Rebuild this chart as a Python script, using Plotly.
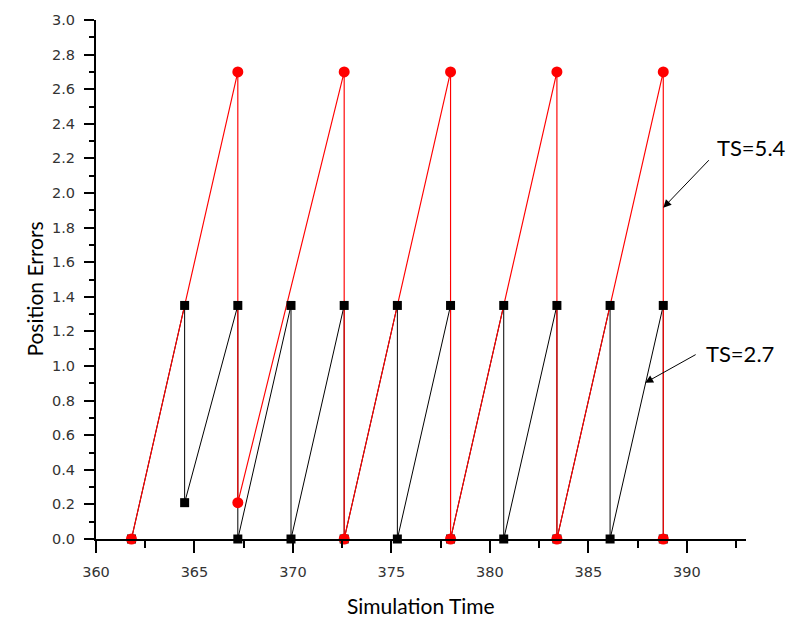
import plotly.graph_objects as go

# TS = 5.4 series (red)
ts54_time = [361.8, 367.2, 367.2, 372.6, 372.6, 378.0, 378.0, 383.4, 383.4, 388.8, 388.8]
ts54_err = [0.0, 2.7, 0.21, 2.7, 0.0, 2.7, 0.0, 2.7, 0.0, 2.7, 0.0]

# TS = 2.7 series (black)
ts27_time = [361.8, 364.5, 364.5, 367.2, 367.2, 369.9, 369.9, 372.6, 372.6, 375.3, 375.3,
             378.0, 378.0, 380.7, 380.7, 383.4, 383.4, 386.1, 386.1, 388.8, 388.8]
ts27_err = [0.0, 1.35, 0.21, 1.35, 0.0, 1.35, 0.0, 1.35, 0.0, 1.35, 0.0,
            1.35, 0.0, 1.35, 0.0, 1.35, 0.0, 1.35, 0.0, 1.35, 0.0]

x_ticks = [360, 365, 370, 375, 380, 385, 390]
y_ticks = [0.0, 0.2, 0.4, 0.6, 0.8, 1.0, 1.2, 1.4, 1.6, 1.8, 2.0, 2.2, 2.4, 2.6, 2.8, 3.0]

fig = go.Figure()
fig.add_trace(go.Scatter(x=ts27_time, y=ts27_err, mode="lines",
                         line=dict(color="black", width=1), cliponaxis=False, showlegend=False))
fig.add_trace(go.Scatter(x=ts54_time, y=ts54_err, mode="lines",
                         line=dict(color="#ff0000", width=1.15), cliponaxis=False, showlegend=False))
fig.add_trace(go.Scatter(x=ts27_time, y=ts27_err, mode="markers",
                         marker=dict(symbol="square", size=9, color="black"),
                         cliponaxis=False, showlegend=False))
fig.add_trace(go.Scatter(x=ts54_time, y=ts54_err, mode="markers",
                         marker=dict(symbol="circle", size=11, color="#ff0000"),
                         cliponaxis=False, showlegend=False))

tickfont = dict(family="DejaVu Sans", size=14.5, color="#333333")

fig.update_layout(
    width=788, height=618,
    margin=dict(l=96, r=42, t=17, b=79),
    paper_bgcolor="white", plot_bgcolor="white",
    xaxis=dict(range=[360, 393.0], tickvals=x_ticks, ticktext=[str(v) for v in x_ticks],
               showgrid=False, zeroline=False, showline=True, linecolor="black", linewidth=2,
               ticks="outside", ticklen=12, tickwidth=2, tickcolor="black",
               minor=dict(ticks="outside", ticklen=7, tickwidth=2, tickcolor="black",
                          tick0=360, dtick=2.5),
               tickfont=tickfont, ticklabelstandoff=7),
    yaxis=dict(range=[0, 3.0], tickvals=y_ticks, ticktext=[f"{v:.1f}" for v in y_ticks],
               showgrid=False, zeroline=False, showline=True, linecolor="black", linewidth=2,
               ticks="outside", ticklen=10, tickwidth=2, tickcolor="black",
               minor=dict(ticks="outside", ticklen=5, tickwidth=2, tickcolor="black",
                          tick0=0, dtick=0.1),
               tickfont=tickfont, ticklabelstandoff=6),
)

titlefont = dict(family="Lato", size=21, color="black")
fig.add_annotation(text="Simulation Time", xref="paper", yref="paper", x=0.5, y=-0.128,
                   showarrow=False, font=titlefont, xanchor="center", yanchor="middle")
fig.add_annotation(text="Position Errors", xref="paper", yref="paper", x=-0.095, y=0.481,
                   showarrow=False, font=titlefont, textangle=-90,
                   xanchor="center", yanchor="middle")

# arrows
fig.add_annotation(x=388.8, y=1.915, xref="x", yref="y", ax=47, ay=-49, text="",
                   showarrow=True, arrowhead=2, arrowsize=1.6, arrowwidth=1, arrowcolor="black")
fig.add_annotation(x=387.88, y=0.903, xref="x", yref="y", ax=52, ay=-29, text="",
                   showarrow=True, arrowhead=2, arrowsize=1.6, arrowwidth=1, arrowcolor="black")

labelfont = dict(family="Lato", size=22, color="black")
fig.add_annotation(text="TS=5.4", xref="paper", yref="paper", x=1.008, y=0.755,
                   showarrow=False, font=labelfont, xanchor="center", yanchor="middle")
fig.add_annotation(text="TS=2.7", xref="paper", yref="paper", x=0.990, y=0.358,
                   showarrow=False, font=labelfont, xanchor="center", yanchor="middle")

fig.write_html("out.html")
